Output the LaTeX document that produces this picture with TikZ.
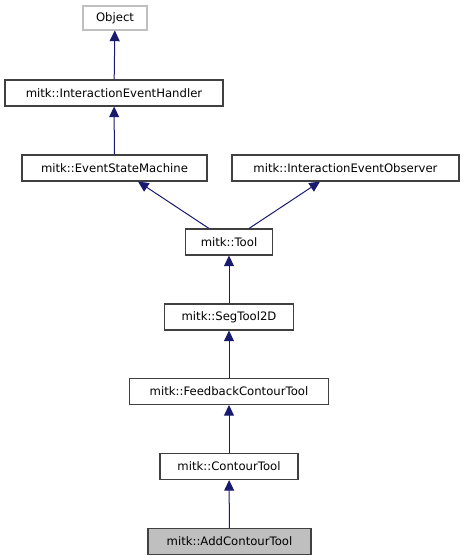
\documentclass[tikz,border=0pt]{standalone}
\usepackage{fontspec}
\setmainfont{DejaVu Sans}
\usetikzlibrary{arrows.meta}
\definecolor{edgeblue}{HTML}{191970}
\definecolor{boxgray}{HTML}{BFBFBF}
\definecolor{boxline}{HTML}{404040}
\tikzset{
  cls/.style={draw=boxline, line width=0.8pt, fill=white, inner sep=0pt, minimum height=19.5pt, font=\fontsize{8.75pt}{10pt}\selectfont},
  inh/.style={draw=edgeblue, line width=0.75pt, -{Triangle[width=7.5pt,length=8pt]}}
}
\begin{document}
\begin{tikzpicture}[x=0.75pt,y=-0.75pt]
\useasboundingbox (0,0) rectangle (464,560);
\node[cls, draw=boxgray, minimum width=48pt, minimum height=18pt] (obj) at (115,18) {Object};
\node[cls, minimum width=163.5pt] (ieh) at (114,93) {mitk::InteractionEventHandler};
\node[cls, minimum width=138.75pt] (esm) at (114.5,168) {mitk::EventStateMachine};
\node[cls, minimum width=170.25pt] (ieo) at (345.5,168) {mitk::InteractionEventObserver};
\node[cls, minimum width=65.25pt] (tool) at (229,242) {mitk::Tool};
\node[cls, minimum width=96.75pt] (seg) at (229,317) {mitk::SegTool2D};
\node[cls, minimum width=149.25pt] (fct) at (229,391.5) {mitk::FeedbackContourTool};
\node[cls, minimum width=103.5pt] (ct) at (229,466.5) {mitk::ContourTool};
\node[cls, fill=boxgray, minimum width=122.25pt] (act) at (229.5,541.5) {mitk::AddContourTool};
\draw[inh] (ieh) -- (obj);
\draw[inh] (esm) -- (ieh);
\draw[inh] ([xshift=-20*0.75pt]tool.north) -- ([xshift=23.5*0.75pt]esm.south);
\draw[inh] ([xshift=20*0.75pt]tool.north) -- ([xshift=-25.5*0.75pt]ieo.south);
\draw[inh] (seg) -- (tool);
\draw[inh] (fct) -- (seg);
\draw[inh] (ct) -- (fct);
\draw[inh] (act) -- (ct);
\end{tikzpicture}
\end{document}
